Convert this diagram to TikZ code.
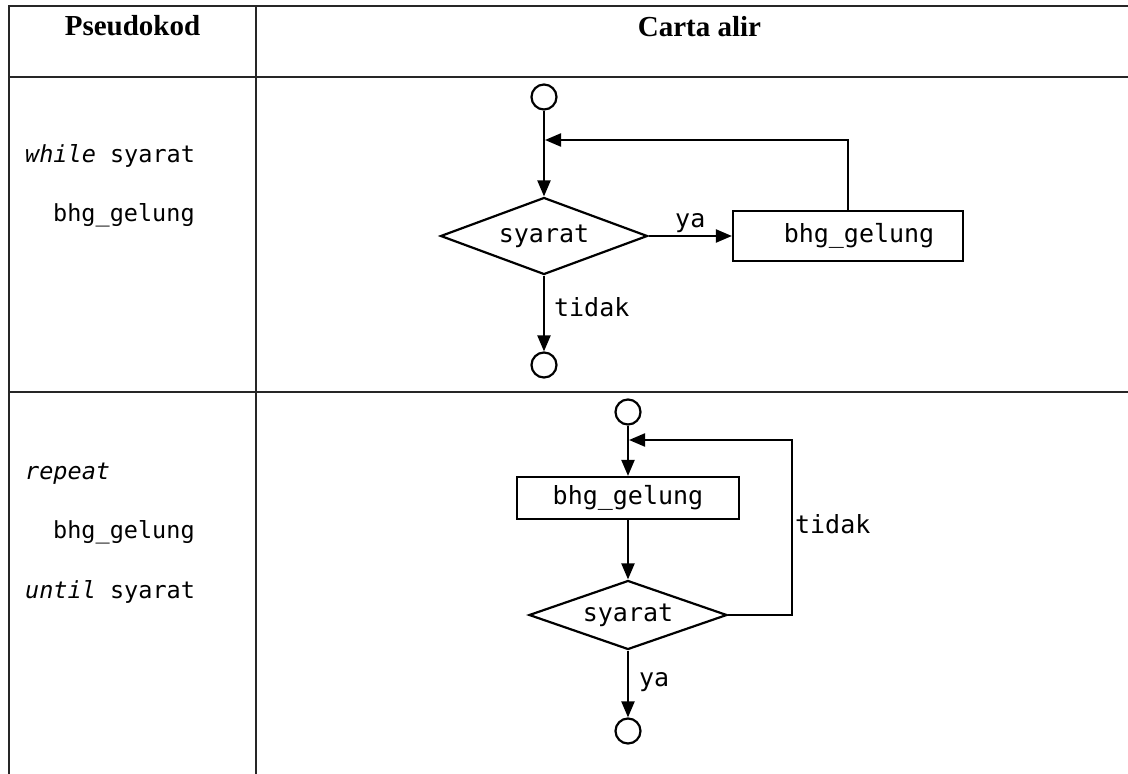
\documentclass[tikz,border=0pt]{standalone}
\usepackage{fontspec}
\setmainfont{Liberation Serif}
\newfontfamily\codefont{DejaVu Sans Mono}
\usepackage{tikz}
\usetikzlibrary{arrows.meta,positioning,shapes.geometric}
\newcommand{\codesize}{\fontsize{23.5}{28}\selectfont}
\newcommand{\chartsize}{\fontsize{25}{30}\selectfont}
\tikzset{
  >={Triangle[length=16pt,width=13pt]},
  gridline/.style={line width=2.2pt,draw=black!85},
  headnode/.style={font=\fontsize{29}{34}\selectfont\bfseries,anchor=base,inner sep=0pt},
  codenode/.style={font=\codefont\codesize,anchor=base west,inner sep=0pt},
  termnode/.style={circle,draw,line width=2.2pt,minimum size=25pt,inner sep=0pt},
  decnode/.style={diamond,draw,line width=2.2pt,font=\codefont\chartsize,
                  inner sep=0pt,aspect=2.7},
  procnode/.style={rectangle,draw,line width=2.2pt,font=\codefont\chartsize,
                   inner sep=0pt},
  flowarrow/.style={->,line width=2.2pt},
  flowlabel/.style={font=\codefont\chartsize,inner sep=2pt},
}
\begin{document}
\begin{tikzpicture}[x=1pt,y=-1pt]
  \useasboundingbox (0,0) rectangle (1128,774);
  % table
  \draw[gridline] (1128,6) -- (9,6) -- (9,774);
  \draw[gridline] (256,6) -- (256,774);
  \draw[gridline] (9,77) -- (1128,77);
  \draw[gridline] (9,392) -- (1128,392);
  \node[headnode] (headcode) at (132.5,35) {Pseudokod};
  \node[headnode] (headchart) at (699.5,36) {Carta alir};

  % pseudocode
  \node[codenode] (wline) at (25,162.5) {\itshape while\upshape{} syarat};
  \node[codenode] (wbody) at (53,221.5) {bhg\_gelung};
  \node[codenode] (rline) at (25,479) {\itshape repeat};
  \node[codenode] (rbody) at (53,538.5) {bhg\_gelung};
  \node[codenode] (uline) at (25,598) {\itshape until\upshape{} syarat};

  % while loop
  \node[termnode] (start1) at (544,97) {};
  \node[decnode,minimum width=207pt,minimum height=77pt] (dec1) at (544,236) {syarat};
  \node[procnode,minimum width=230pt,minimum height=50pt] (proc1) at (848,236) {\hspace{22pt}bhg\_gelung};
  \node[termnode] (end1) at (544,365) {};
  \coordinate (back1) at (545,140);
  \draw[flowarrow] (start1) -- (dec1);
  \draw[flowarrow] (dec1.east) -- node[flowlabel,above] {ya} (proc1.west);
  \draw[flowarrow] (proc1.north) |- (back1);
  \draw[flowarrow] (dec1.south) -- node[flowlabel,right=7pt,pos=0.42] {tidak} (end1);

  % repeat loop
  \node[termnode] (start2) at (628,412) {};
  \node[procnode,minimum width=222pt,minimum height=42pt] (proc2) at (628,498) {bhg\_gelung};
  \node[decnode,minimum width=198pt,minimum height=69pt] (dec2) at (628,615) {syarat};
  \node[termnode] (end2) at (628,731) {};
  \coordinate (turn2) at (792,440);
  \coordinate (back2) at (629,440);
  \draw[flowarrow] (start2) -- (proc2);
  \draw[flowarrow] (proc2) -- (dec2);
  \draw[flowarrow] (dec2.east) -| node[flowlabel,right,pos=0.76] {tidak} (turn2) -- (back2);
  \draw[flowarrow] (dec2.south) -- node[flowlabel,right=8pt,pos=0.47] {ya} (end2);
\end{tikzpicture}
\end{document}
